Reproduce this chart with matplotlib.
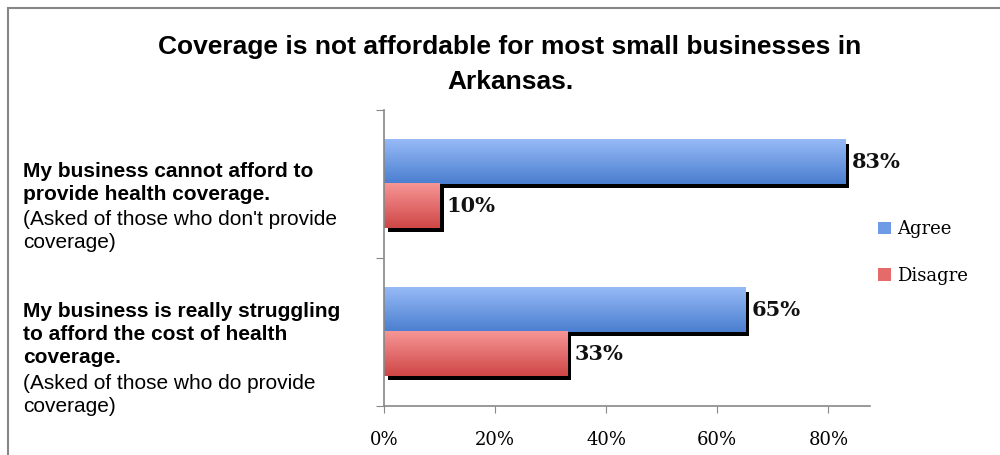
import numpy as np
import matplotlib
matplotlib.use("Agg")
import matplotlib.pyplot as plt
from matplotlib import transforms
from matplotlib.patches import Rectangle
from matplotlib.colors import LinearSegmentedColormap

# ---------------- data ----------------
title = "Coverage is not affordable for most small businesses in\nArkansas."
cat_bold = ["My business is really struggling\nto afford the cost of health\ncoverage.",
            "My business cannot afford to\nprovide health coverage."]
cat_note = ["(Asked of those who do provide\ncoverage)",
            "(Asked of those who don't provide\ncoverage)"]
series_names = ["Agree", "Disagre"]
agree = [0.65, 0.83]
disagree = [0.33, 0.10]
xticks = [0.0, 0.2, 0.4, 0.6, 0.8]
xtick_labels = ["0%", "20%", "40%", "60%", "80%"]

# ---------------- style ----------------
W, H = 1000, 455
fig = plt.figure(figsize=(W / 100, H / 100), dpi=100)
fig.patch.set_facecolor("white")

# outer border
fig.add_artist(Rectangle((8 / W, -0.1), 1.2, (H - 8) / H + 0.1, transform=fig.transFigure,
                         fill=False, edgecolor="#868686", linewidth=1.5))

ax_l, ax_r, ax_t, ax_b = 384, 870, 110, 406
ax = fig.add_axes([ax_l / W, 1 - ax_b / H, (ax_r - ax_l) / W, (ax_b - ax_t) / H])

blue_cmap = LinearSegmentedColormap.from_list("b", ["#4A7ECF", "#97BAF7"])
red_cmap = LinearSegmentedColormap.from_list("r", ["#CF4646", "#F79696"])

bh = 0.3
ypos = np.arange(len(agree))
shadow_tr = transforms.offset_copy(ax.transData, fig=fig, x=4, y=-4, units="dots")

series = [(agree, ypos + bh / 2, blue_cmap),
          (disagree, ypos - bh / 2, red_cmap)]

grad = np.linspace(0, 1, 256).reshape(-1, 1)
for vals, ys, cmap in series:
    ax.barh(ys, vals, height=bh, color="black", transform=shadow_tr, zorder=1)
for vals, ys, cmap in series:
    for v, y in zip(vals, ys):
        ax.imshow(grad, cmap=cmap, aspect="auto", origin="lower",
                  extent=[0, v, y - bh / 2, y + bh / 2], zorder=2)
ax.set_xlim(0, 0.875)
ax.set_ylim(-0.5, 1.5)

# data labels
for vals, ys, cmap in series:
    for v, y in zip(vals, ys):
        ax.annotate(f"{v*100:.0f}%", xy=(v, y), xytext=(7, 0), textcoords="offset pixels",
                    ha="left", va="center", fontsize=15, fontweight="bold",
                    family="DejaVu Serif", color="#111111", zorder=3)

# axes styling
for s in ["top", "right"]:
    ax.spines[s].set_visible(False)
for s in ["left", "bottom"]:
    ax.spines[s].set_color("#888888")
    ax.spines[s].set_linewidth(1.2)
ax.set_xticks(xticks)
ax.set_xticklabels(xtick_labels, family="DejaVu Serif", fontsize=13)
ax.tick_params(axis="x", length=5, color="#888888", pad=13)
ax.set_yticks([-0.5, 0.5, 1.5])
ax.set_yticklabels([])
ax.tick_params(axis="y", length=6, color="#888888")

# category labels
line_px = 24.0
for i in range(len(agree)):
    y_top = [302, 162][i]
    fig.text(23 / W, 1 - y_top / H, cat_bold[i], ha="left", va="top",
             fontsize=15, fontweight="bold", family="Liberation Sans", linespacing=1.27)
    nlines = cat_bold[i].count("\n") + 1
    fig.text(23 / W, 1 - (y_top + nlines * line_px) / H, cat_note[i], ha="left", va="top",
             fontsize=15, family="Liberation Sans", linespacing=1.27)

# title
fig.text(510 / W, 1 - 35 / H, title, ha="center", va="top", fontsize=19,
         fontweight="bold", family="Liberation Sans", linespacing=1.6)

# legend
handles = [Rectangle((0, 0), 1, 1, facecolor="#6F9BE6"), Rectangle((0, 0), 1, 1, facecolor="#E56B6B")]
leg = fig.legend(handles, series_names, loc="upper left", bbox_to_anchor=(862 / W, 1 - 204 / H),
                 frameon=False, handlelength=0.7, handleheight=0.7, handletextpad=0.35,
                 labelspacing=1.6, prop={"family": "DejaVu Serif", "size": 13})

fig.savefig("out.png", dpi=100, facecolor="white")
